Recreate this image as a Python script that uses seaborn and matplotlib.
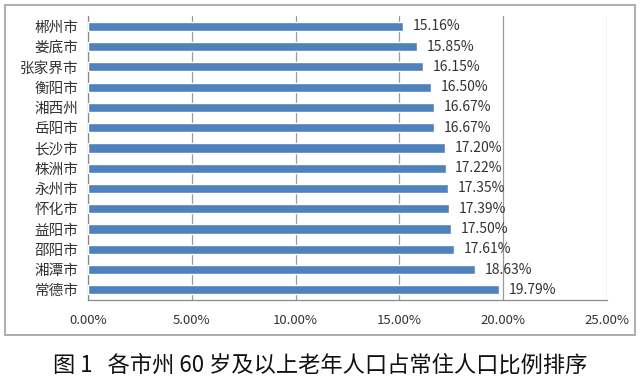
import matplotlib
matplotlib.use('Agg')
import matplotlib.pyplot as plt
import seaborn as sns
import pandas as pd
import numpy as np
from matplotlib.patches import Rectangle

# 数据
cities = ['郴州市', '娄底市', '张家界市', '衡阳市', '湘西州', '岳阳市', '长沙市',
          '株洲市', '永州市', '怀化市', '益阳市', '邵阳市', '湘潭市', '常德市']
ratios = [15.16, 15.85, 16.15, 16.50, 16.67, 16.67, 17.20,
          17.22, 17.35, 17.39, 17.50, 17.61, 18.63, 19.79]
xticks = [0, 5, 10, 15, 20, 25]
caption = '图 1   各市州 60 岁及以上老年人口占常住人口比例排序'

df = pd.DataFrame({'city': cities, 'ratio': ratios})

sns.set_style('white')
plt.rcParams['font.family'] = ['Noto Sans CJK SC', 'DejaVu Sans']

fig = plt.figure(figsize=(6.4, 3.87), dpi=100)
ax = fig.add_axes([0.1375, 0.225, 0.811, 0.733])

# 外框
fig.patches.append(Rectangle((0.008, 0.135), 0.984, 0.852, transform=fig.transFigure,
                             fill=False, edgecolor='#a0a0a0', linewidth=1.2))

sns.barplot(data=df, x='ratio', y='city', orient='h', color='#4F81BD',
            saturation=1, width=0.45, ax=ax, zorder=3)

ax.set_xlim(0, 25)
ax.set_xticks(xticks)
ax.set_xticklabels([f'{t:.2f}%' for t in xticks], fontsize=9.5, color='#333333')
ax.tick_params(axis='y', which='major', labelsize=10.5, colors='#333333', length=0, pad=7)
ax.set_yticks(np.arange(len(cities) + 1) - 0.5, minor=True)
ax.tick_params(axis='y', which='minor', length=4, color='#888888')
ax.tick_params(axis='x', length=4, color='#888888', direction='out', pad=6)
ax.set_xlabel('')
ax.set_ylabel('')
ax.xaxis.grid(True, color='#9a9a9a', linewidth=0.9)
ax.set_axisbelow(True)

for s in ['top', 'right']:
    ax.spines[s].set_visible(False)
for s in ['left', 'bottom']:
    ax.spines[s].set_color('#888888')
    ax.spines[s].set_linewidth(0.9)

# 数据标签
ax.bar_label(ax.containers[0], labels=[f'{v:.2f}%' for v in ratios],
             padding=7, fontsize=10, color='#333333')

fig.text(0.5, 0.057, caption, ha='center', va='center', fontsize=16, color='#111111')

plt.savefig('out.png', dpi=100)
